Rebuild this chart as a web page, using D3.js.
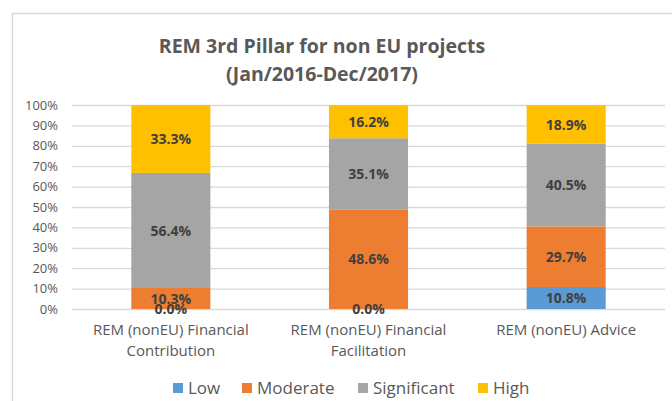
<!DOCTYPE html>
<html>
<head>
<meta charset="utf-8">
<script src="https://cdn.jsdelivr.net/npm/d3@7"></script>
<style>
  html, body { margin: 0; padding: 0; background: #fff; }
  svg { display: block; }
  text { font-family: "Open Sans", "Noto Sans", sans-serif; }
</style>
</head>
<body>
<svg id="chart" width="672" height="401"></svg>
<script>
// Categories and series (percent shares per project type)
const categories = [
  ["REM (nonEU) Financial", "Contribution"],
  ["REM (nonEU) Financial", "Facilitation"],
  ["REM (nonEU) Advice"]
];
const seriesNames = ["Low", "Moderate", "Significant", "High"];
const low         = [0.0, 0.0, 10.8];
const moderate    = [10.3, 48.6, 29.7];
const significant = [56.4, 35.1, 40.5];
const high        = [33.3, 16.2, 18.9];
const yTicks = [0, 10, 20, 30, 40, 50, 60, 70, 80, 90, 100];
const colors = ["#5B9BD5", "#ED7D31", "#A5A5A5", "#FFC000"];
const titleLines = ["REM 3rd Pillar for non EU projects", "(Jan/2016-Dec/2017)"];

const seriesValues = [low, moderate, significant, high];
const rows = categories.map((c, i) => {
  const r = { key: i };
  seriesNames.forEach((s, j) => r[s] = seriesValues[j][i]);
  return r;
});

const svg = d3.select("#chart");

// chart area frame
svg.append("rect")
  .attr("x", 12.5).attr("y", 13.5)
  .attr("width", 700).attr("height", 420)
  .attr("fill", "#fff").attr("stroke", "#d9d9d9").attr("stroke-width", 1.5);

const plot = { left: 72, right: 665, top: 105, bottom: 309 };

const x = d3.scaleBand()
  .domain(categories.map((c, i) => i))
  .range([plot.left, plot.right])
  .paddingInner(0.6).paddingOuter(0.3);

const y = d3.scaleLinear().domain([0, 100]).range([plot.bottom, plot.top]);

// gridlines + y labels
const yAxis = d3.axisLeft(y)
  .tickValues(yTicks)
  .tickSize(-(plot.right - plot.left))
  .tickPadding(14)
  .tickFormat(d => d + "%");
const gy = svg.append("g")
  .attr("transform", `translate(${plot.left},0)`)
  .call(yAxis);
gy.select(".domain").remove();
gy.selectAll(".tick line").attr("stroke", "#d9d9d9").attr("stroke-width", 1.3);
gy.selectAll(".tick text")
  .attr("fill", "#595959")
  .attr("font-size", 13);

// stacked bars
const stack = d3.stack().keys(seriesNames);
const layers = stack(rows);

const g = svg.append("g");
layers.forEach((layer, j) => {
  g.selectAll(null)
    .data(layer)
    .enter().append("rect")
    .attr("x", (d, i) => x(i))
    .attr("width", x.bandwidth())
    .attr("y", d => y(d[1]))
    .attr("height", d => y(d[0]) - y(d[1]))
    .attr("fill", colors[j]);
});

// value labels (Low labels drawn last so they sit on top)
const labelOrder = [1, 2, 3, 0];
labelOrder.forEach(j => {
  const layer = layers[j];
  g.selectAll(null)
    .data(layer)
    .enter().append("text")
    .attr("x", (d, i) => x(i) + x.bandwidth() / 2)
    .attr("y", d => (y(d[0]) + y(d[1])) / 2)
    .attr("dy", "0.36em")
    .attr("text-anchor", "middle")
    .attr("font-size", 14)
    .attr("font-weight", "bold")
    .attr("fill", "#404040")
    .text(d => (d[1] - d[0]).toFixed(1) + "%");
});

// category labels
const gx = svg.append("g");
categories.forEach((lines, i) => {
  const t = gx.append("text")
    .attr("x", x(i) + x.bandwidth() / 2)
    .attr("y", 335)
    .attr("text-anchor", "middle")
    .attr("font-size", 15)
    .attr("fill", "#595959");
  lines.forEach((ln, k) => {
    t.append("tspan")
      .attr("x", x(i) + x.bandwidth() / 2)
      .attr("dy", k === 0 ? 0 : 21)
      .text(ln);
  });
});

// title
const title = svg.append("text")
  .attr("x", 322)
  .attr("y", 53)
  .attr("text-anchor", "middle")
  .attr("font-size", 19.5)
  .attr("font-weight", "bold")
  .attr("fill", "#595959");
titleLines.forEach((ln, k) => {
  title.append("tspan").attr("x", 322).attr("dy", k === 0 ? 0 : 28).text(ln);
});

// legend
const legendX = [173, 242, 358, 478];
const legend = svg.append("g");
seriesNames.forEach((s, j) => {
  legend.append("rect")
    .attr("x", legendX[j]).attr("y", 383)
    .attr("width", 10).attr("height", 10)
    .attr("fill", colors[j]);
  legend.append("text")
    .attr("x", legendX[j] + 15).attr("y", 388)
    .attr("dy", "0.36em")
    .attr("font-size", 17)
    .attr("fill", "#595959")
    .text(s);
});
</script>
</body>
</html>
